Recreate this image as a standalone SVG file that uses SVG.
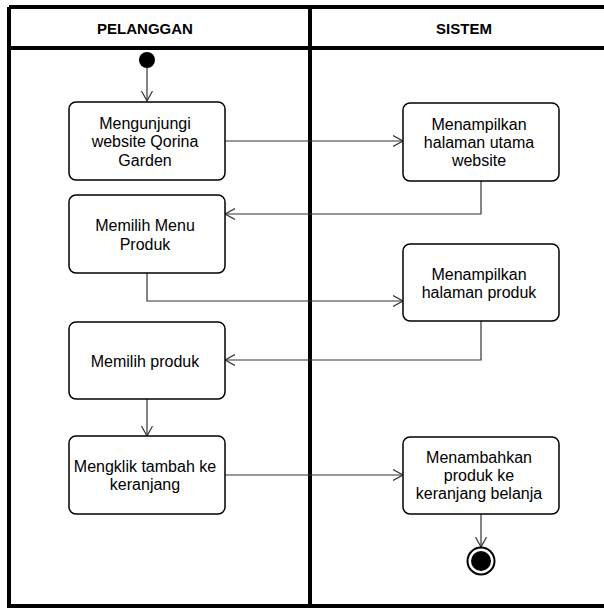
<svg xmlns="http://www.w3.org/2000/svg" width="604" height="608" viewBox="0 0 604 608">
<defs>
<style>
.frame{stroke:#000;stroke-width:4;fill:none}
.box{fill:#fff;stroke:#000;stroke-width:1.5}
.lbl{font-family:"Liberation Sans",Arial,sans-serif;font-size:16px;fill:#000;text-anchor:middle}
.hdr{font-family:"Liberation Sans",Arial,sans-serif;font-size:15px;font-weight:bold;fill:#000;text-anchor:middle}
.edge{stroke:#333;stroke-width:1.2;fill:none}
</style>
<marker id="arr" markerWidth="12" markerHeight="12" refX="10" refY="6" orient="auto" markerUnits="userSpaceOnUse">
<path d="M0,0.5 L10,6 L0,11.5" fill="none" stroke="#333" stroke-width="1.2"/>
</marker>
</defs>
<rect width="604" height="608" fill="#fff"/>
<g id="swimlanes">
<path class="frame" d="M9,7 H620 M9,7 V606 H620 M9,48 H620 M310,7 V606"/>
<text class="hdr" x="145" y="34">PELANGGAN</text>
<text class="hdr" x="464" y="34">SISTEM</text>
</g>
<g id="connectors">
<line class="edge" x1="147" y1="68" x2="147" y2="101" marker-end="url(#arr)"/>
<line class="edge" x1="225" y1="141" x2="403" y2="141" marker-end="url(#arr)"/>
<polyline class="edge" points="481,181 481,214 225,214" marker-end="url(#arr)"/>
<polyline class="edge" points="147,273 147,301 403,301" marker-end="url(#arr)"/>
<polyline class="edge" points="481,321 481,360 225,360" marker-end="url(#arr)"/>
<line class="edge" x1="147" y1="399" x2="147" y2="436" marker-end="url(#arr)"/>
<line class="edge" x1="225" y1="475" x2="403" y2="475" marker-end="url(#arr)"/>
<line class="edge" x1="481" y1="514" x2="481" y2="547" marker-end="url(#arr)"/>
</g>
<g id="start">
<circle cx="147" cy="60" r="8" fill="#000"/>
</g>
<g id="n1">
<rect class="box" x="69" y="102" width="156" height="78" rx="7"/>
<text class="lbl" x="145" y="129">Mengunjungi</text>
<text class="lbl" x="145" y="147.3">website Qorina</text>
<text class="lbl" x="145" y="165.6">Garden</text>
</g>
<g id="n2">
<rect class="box" x="403" y="103" width="156" height="78" rx="7"/>
<text class="lbl" x="479" y="129.6">Menampilkan</text>
<text class="lbl" x="479" y="147.9">halaman utama</text>
<text class="lbl" x="479" y="166.2">website</text>
</g>
<g id="n3">
<rect class="box" x="69" y="195" width="156" height="78" rx="7"/>
<text class="lbl" x="145" y="231.3">Memilih Menu</text>
<text class="lbl" x="145" y="249.6">Produk</text>
</g>
<g id="n4">
<rect class="box" x="403" y="244" width="156" height="77" rx="7"/>
<text class="lbl" x="479" y="279.5">Menampilkan</text>
<text class="lbl" x="479" y="297.8">halaman produk</text>
</g>
<g id="n5">
<rect class="box" x="69" y="322" width="156" height="77" rx="7"/>
<text class="lbl" x="145" y="366.6">Memilih produk</text>
</g>
<g id="n6">
<rect class="box" x="69" y="436" width="156" height="78" rx="7"/>
<text class="lbl" x="145" y="471.8">Mengklik tambah ke</text>
<text class="lbl" x="145" y="490.1">keranjang</text>
</g>
<g id="n7">
<rect class="box" x="403" y="437" width="156" height="77" rx="7"/>
<text class="lbl" x="479" y="462.8">Menambahkan</text>
<text class="lbl" x="479" y="481.1">produk ke</text>
<text class="lbl" x="479" y="499.4">keranjang belanja</text>
</g>
<g id="end">
<circle cx="481" cy="561" r="13.5" fill="#fff" stroke="#000" stroke-width="2"/>
<circle cx="481" cy="561" r="10" fill="#000"/>
</g>
</svg>
